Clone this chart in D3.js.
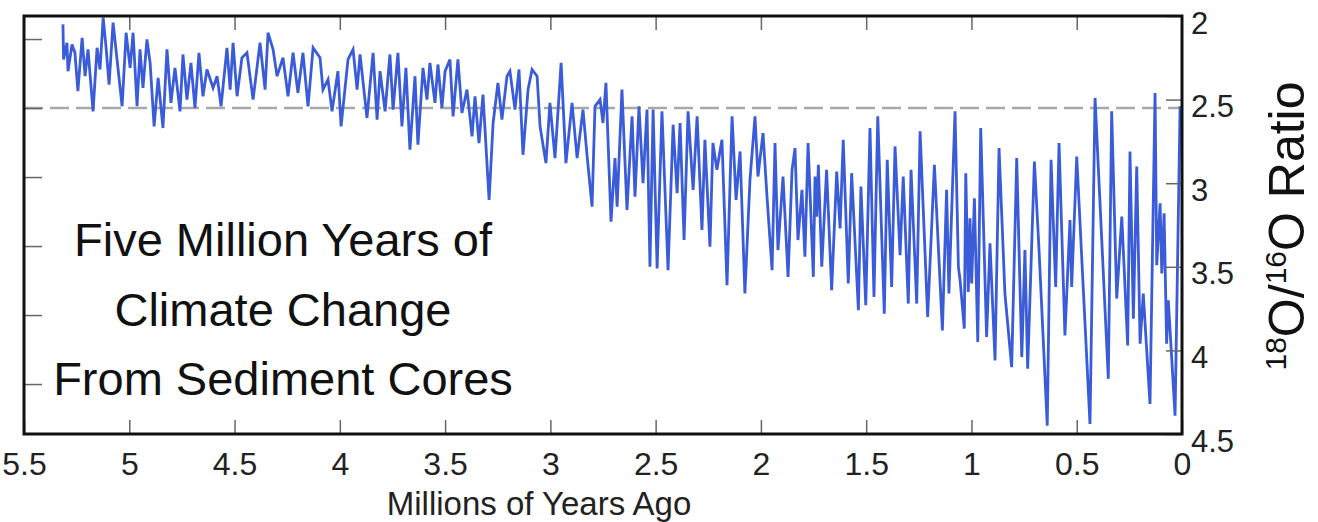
<!DOCTYPE html>
<html>
<head>
<meta charset="utf-8">
<script src="https://cdn.jsdelivr.net/npm/d3@7"></script>
<style>
  body { margin: 0; background: #fff; }
  svg { display: block; }
  .tick line { stroke: #666; stroke-width: 1.5; }
  .domain { display: none; }
</style>
</head>
<body>
<script>
// age (millions of years ago), 18O/16O ratio
const d18O = [
  [5.315,2.05],[5.312,2.26],[5.296,2.16],[5.291,2.33],[5.272,2.17],[5.258,2.22],[5.244,2.45],[5.224,2.13],
  [5.210,2.36],[5.196,2.20],[5.172,2.57],[5.153,2.19],[5.139,2.32],[5.124,2.01],[5.110,2.19],[5.096,2.41],
  [5.077,2.04],[5.034,2.54],[5.015,2.10],[4.996,2.31],[4.982,2.10],[4.963,2.54],[4.949,2.20],[4.935,2.43],
  [4.916,2.14],[4.901,2.28],[4.882,2.66],[4.863,2.37],[4.840,2.67],[4.821,2.20],[4.802,2.52],[4.783,2.31],
  [4.759,2.57],[4.745,2.23],[4.726,2.50],[4.707,2.28],[4.688,2.55],[4.669,2.22],[4.650,2.48],[4.631,2.32],
  [4.602,2.43],[4.583,2.36],[4.564,2.54],[4.536,2.19],[4.521,2.44],[4.507,2.16],[4.488,2.48],[4.465,2.25],
  [4.441,2.22],[4.412,2.50],[4.379,2.16],[4.355,2.44],[4.341,2.10],[4.317,2.20],[4.298,2.36],[4.270,2.25],
  [4.246,2.48],[4.222,2.22],[4.199,2.46],[4.175,2.22],[4.151,2.54],[4.127,2.19],[4.094,2.25],[4.080,2.44],
  [4.056,2.38],[4.037,2.57],[4.009,2.33],[3.994,2.66],[3.961,2.26],[3.937,2.20],[3.918,2.44],[3.904,2.23],
  [3.871,2.61],[3.842,2.22],[3.823,2.62],[3.809,2.33],[3.785,2.57],[3.762,2.23],[3.747,2.56],[3.724,2.22],
  [3.705,2.66],[3.686,2.31],[3.667,2.80],[3.643,2.36],[3.629,2.77],[3.605,2.31],[3.586,2.50],[3.572,2.28],
  [3.548,2.52],[3.534,2.29],[3.515,2.55],[3.500,2.33],[3.477,2.26],[3.462,2.60],[3.439,2.26],[3.420,2.58],
  [3.396,2.44],[3.372,2.72],[3.358,2.48],[3.339,2.76],[3.320,2.47],[3.291,3.10],[3.272,2.64],[3.249,2.40],
  [3.230,2.62],[3.206,2.36],[3.192,2.33],[3.168,2.56],[3.149,2.32],[3.130,2.83],[3.106,2.44],[3.087,2.32],
  [3.063,2.36],[3.049,2.66],[3.021,2.88],[3.002,2.52],[2.978,2.85],[2.949,2.28],[2.926,2.88],[2.897,2.52],
  [2.873,2.85],[2.845,2.56],[2.826,2.83],[2.802,3.14],[2.788,2.54],[2.764,2.50],[2.750,2.64],[2.736,2.40],
  [2.712,3.23],[2.693,2.85],[2.683,3.14],[2.660,2.44],[2.636,3.16],[2.612,2.60],[2.598,3.08],[2.579,2.54],
  [2.560,3.00],[2.541,2.56],[2.527,3.50],[2.512,2.56],[2.493,3.51],[2.470,2.57],[2.441,3.52],[2.417,2.65],
  [2.398,3.06],[2.384,2.64],[2.365,3.34],[2.346,2.57],[2.322,3.04],[2.303,2.60],[2.280,3.28],[2.266,2.74],
  [2.242,3.38],[2.228,2.76],[2.209,2.92],[2.185,2.74],[2.161,3.61],[2.137,2.60],[2.118,3.10],[2.099,2.81],
  [2.076,3.66],[2.052,2.98],[2.028,2.60],[2.014,2.96],[1.990,2.70],[1.971,3.08],[1.947,3.52],[1.933,2.76],
  [1.919,3.40],[1.895,2.96],[1.871,3.56],[1.852,2.92],[1.838,2.79],[1.824,3.34],[1.805,3.04],[1.791,3.44],
  [1.776,2.76],[1.751,3.56],[1.743,2.96],[1.735,3.20],[1.727,2.89],[1.711,3.50],[1.688,2.92],[1.664,3.64],
  [1.640,2.93],[1.624,3.27],[1.609,2.74],[1.585,3.60],[1.569,2.94],[1.537,3.76],[1.525,3.02],[1.502,3.73],
  [1.482,2.67],[1.463,3.68],[1.445,2.60],[1.414,3.78],[1.400,2.86],[1.379,3.62],[1.363,2.78],[1.339,3.43],
  [1.324,2.96],[1.300,3.72],[1.287,2.92],[1.260,3.72],[1.244,2.69],[1.208,3.80],[1.176,2.89],[1.138,3.88],
  [1.118,3.04],[1.107,3.66],[1.078,2.57],[1.062,3.50],[1.054,3.58],[1.034,3.87],[1.027,2.94],[1.015,3.65],
  [1.007,3.21],[0.999,3.60],[0.986,3.09],[0.970,3.95],[0.956,2.67],[0.928,3.92],[0.912,3.36],[0.888,4.06],
  [0.869,2.79],[0.841,3.66],[0.809,4.10],[0.785,2.85],[0.761,4.04],[0.746,3.40],[0.733,4.11],[0.701,2.87],
  [0.679,3.40],[0.640,4.45],[0.622,2.86],[0.600,3.62],[0.584,2.76],[0.556,3.91],[0.532,3.22],[0.524,3.62],
  [0.500,2.84],[0.437,4.44],[0.413,2.49],[0.350,4.17],[0.334,2.57],[0.310,3.69],[0.286,3.20],[0.258,3.97],
  [0.247,2.81],[0.231,3.81],[0.215,2.90],[0.199,3.96],[0.184,3.66],[0.152,4.32],[0.128,2.46],[0.120,3.49],
  [0.104,3.12],[0.096,3.54],[0.085,3.18],[0.073,3.96],[0.065,3.70],[0.033,4.39],[0.009,2.54]
]

const xTicks = [5.5, 5, 4.5, 4, 3.5, 3, 2.5, 2, 1.5, 1, 0.5, 0]
const ratioTicks = [2, 2.5, 3, 3.5, 4, 4.5]
const innerTicks = [2, 2.5, 3, 3.5, 4, 4.5]   // unlabelled ticks on the left edge
const referenceLevel = 2.5
const titleLines = ['Five Million Years of', 'Climate Change', 'From Sediment Cores']

const W = 1318, H = 522
const margin = { left: 24, right: 136, top: 16, bottom: 88 }
const x0 = margin.left, x1 = W - margin.right
const y0 = margin.top, y1 = H - margin.bottom

const svg = d3.select('body').append('svg')
  .attr('width', W)
  .attr('height', H)
  .style('font-family', '"Liberation Sans", Arial, sans-serif')

const x = d3.scaleLinear().domain([5.5, 0]).range([x0, x1])
const y = d3.scaleLinear().domain([2, 4.5]).range([y0, y1])
// the left edge ticks sit on a slightly different spacing in the original figure
const yInner = d3.scaleLinear().domain([1.833, 4.862]).range([y0, y1])

// dashed reference line
svg.append('line')
  .attr('x1', x0).attr('x2', x1)
  .attr('y1', yInner(referenceLevel)).attr('y2', yInner(referenceLevel))
  .attr('stroke', '#a8a8a8')
  .attr('stroke-width', 2.6)
  .attr('stroke-dasharray', '19 7')

// the record
const line = d3.line().x(d => x(d[0])).y(d => y(d[1]))
svg.append('path')
  .datum(d18O)
  .attr('d', line)
  .attr('fill', 'none')
  .attr('stroke', '#3b5cd9')
  .attr('stroke-width', 2.8)
  .attr('stroke-linejoin', 'miter')

// bottom axis
const gx = svg.append('g')
  .attr('transform', `translate(0,${y1})`)
  .call(d3.axisBottom(x).tickValues(xTicks).tickFormat(d3.format('')).tickSizeInner(-14).tickSizeOuter(0).tickPadding(18))
gx.selectAll('text').attr('font-size', 32).attr('fill', '#222')

// top ticks
svg.append('g')
  .attr('transform', `translate(0,${y0})`)
  .call(d3.axisTop(x).tickValues(xTicks.slice(1, -1)).tickFormat('').tickSizeInner(-14).tickSizeOuter(0))

// left ticks
svg.append('g')
  .attr('transform', `translate(${x0},0)`)
  .call(d3.axisLeft(yInner).tickValues(innerTicks).tickFormat('').tickSizeInner(-18).tickSizeOuter(0))

// right axis with labels
const gy = svg.append('g')
  .attr('transform', `translate(${x1},0)`)
  .call(d3.axisRight(y).tickValues(ratioTicks).tickFormat(d3.format('')).tickSizeInner(-16).tickSizeOuter(0).tickPadding(9))
gy.selectAll('text').attr('font-size', 31).attr('fill', '#222').attr('dy', '0.55em')

// frame
svg.append('rect')
  .attr('x', x0).attr('y', y0)
  .attr('width', x1 - x0).attr('height', y1 - y0)
  .attr('fill', 'none')
  .attr('stroke', '#111')
  .attr('stroke-width', 3)

// axis titles
svg.append('text')
  .attr('x', 539).attr('y', 515)
  .attr('text-anchor', 'middle')
  .attr('font-size', 33)
  .attr('fill', '#222')
  .text('Millions of Years Ago')

const ylab = svg.append('text')
  .attr('transform', 'translate(1304,226) rotate(-90)')
  .attr('text-anchor', 'middle')
  .attr('font-size', 50)
  .attr('fill', '#111')
ylab.append('tspan').attr('font-size', 30).attr('dy', -18).text('18')
ylab.append('tspan').attr('dy', 18).text('O/')
ylab.append('tspan').attr('font-size', 30).attr('dy', -18).text('16')
ylab.append('tspan').attr('dy', 18).text('O Ratio')

// annotation
svg.append('g').selectAll('text')
  .data(titleLines)
  .join('text')
  .attr('x', 283)
  .attr('y', (d, i) => 256 + i * 69.5)
  .attr('text-anchor', 'middle')
  .attr('font-size', 47)
  .attr('fill', '#111')
  .text(d => d)
</script>
</body>
</html>
